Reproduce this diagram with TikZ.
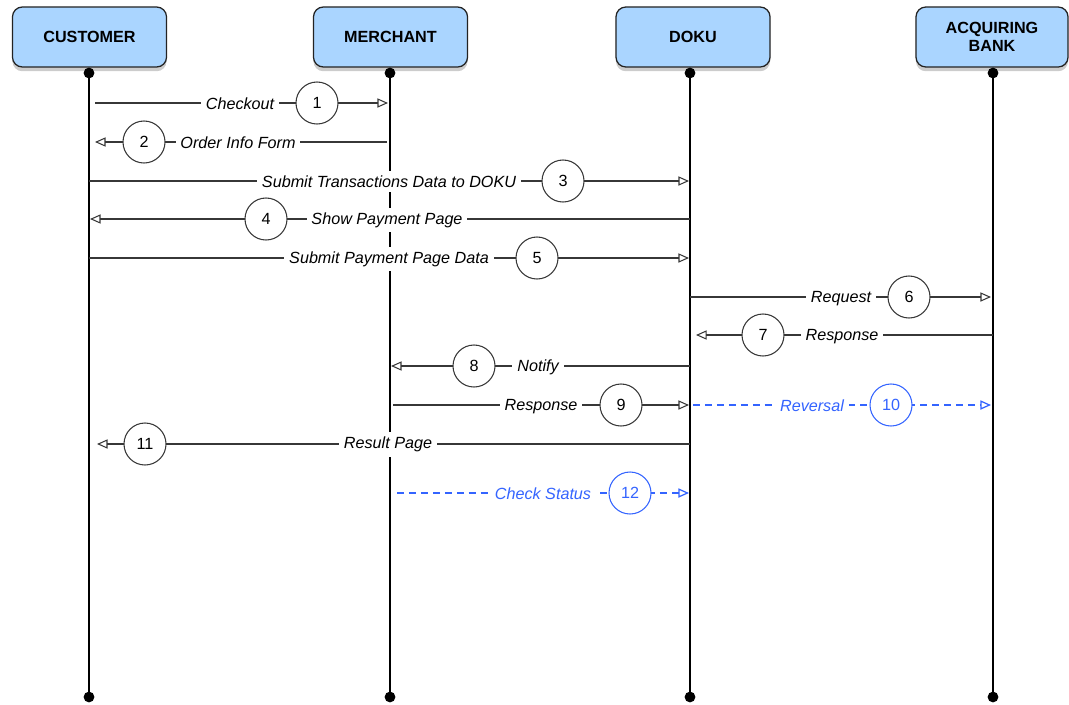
\documentclass[tikz,border=0pt]{standalone}
\usepackage{fontspec}
\setmainfont{Liberation Sans}
\usepackage{xcolor}
\usepackage{tikz}
\usetikzlibrary{arrows.meta,shadows}
\definecolor{figline}{RGB}{35,35,35}
\definecolor{figmsg}{RGB}{55,55,55}
\definecolor{figactor}{RGB}{170,213,255}
\definecolor{figblue}{RGB}{52,100,255}
\tikzset{
  actor/.style ={draw=figline, line width=0.9pt, fill=figactor, rounded corners=7pt,
                 minimum width=3.85cm, minimum height=1.5cm, align=center,
                 font=\bfseries\fontsize{11.5}{12.5}\selectfont,
                 drop shadow={shadow xshift=0pt, shadow yshift=-3pt, opacity=0.4}},
  life/.style  ={draw=black, line width=1.9pt},
  dotend/.style={circle, fill=black, inner sep=0pt, minimum size=0.27cm},
  msg/.style   ={draw=figmsg, line width=0.75pt, -{Triangle[open,length=7.5pt,width=6.5pt]}},
  msgb/.style  ={msg, draw=figblue, line width=0.9pt, dash pattern=on 5pt off 3.5pt},
  lbl/.style   ={fill=white, inner sep=3.5pt, font=\itshape\fontsize{11.5}{12}\selectfont},
  lblb/.style  ={lbl, text=figblue},
  num/.style   ={circle, draw=figmsg, fill=white, line width=0.75pt, minimum size=1.05cm,
                 inner sep=0pt, font=\fontsize{11.5}{12}\selectfont},
  numb/.style  ={num, draw=figblue, text=figblue},
}

\begin{document}
\begin{tikzpicture}[x=0.025cm,y=-0.025cm]
  \useasboundingbox (0,0) rectangle (1069,704);
  % actors
  \node[actor] (cust) at (89.5,37) {CUSTOMER};
  \node[actor] (merc) at (390.5,37) {MERCHANT};
  \node[actor] (doku) at (693,37) {DOKU};
  \node[actor, minimum width=3.8cm] (bank) at (992,37) {ACQUIRING\\BANK};
  % lifelines
  \node[dotend] (cust-top) at (89,73) {};
  \node[dotend] (cust-bot) at (89,697) {};
  \node[dotend] (merc-top) at (390,73) {};
  \node[dotend] (merc-bot) at (390,697) {};
  \node[dotend] (doku-top) at (690,73) {};
  \node[dotend] (doku-bot) at (690,697) {};
  \node[dotend] (bank-top) at (993,73) {};
  \node[dotend] (bank-bot) at (993,697) {};
  \draw[life] (cust-top.center) -- (cust-bot.center);
  \draw[life] (merc-top.center) -- (merc-bot.center);
  \draw[life] (doku-top.center) -- (doku-bot.center);
  \draw[life] (bank-top.center) -- (bank-bot.center);
  % 1
  \coordinate (s1) at (95,103);
  \coordinate (e1) at (388,103);
  \draw[msg] (s1) -- (e1);
  \node[lbl] (l1) at (240,103.5) {Checkout};
  \node[num] (n1) at (317,103) {1};
  % 2
  \coordinate (s2) at (387,142);
  \coordinate (e2) at (95,142);
  \draw[msg] (s2) -- (e2);
  \node[lbl] (l2) at (238,142.5) {Order Info Form};
  \node[num] (n2) at (144,142) {2};
  % 3
  \coordinate (s3) at (89,181);
  \coordinate (e3) at (689,181);
  \draw[msg] (s3) -- (e3);
  \node[lbl] (l3) at (389,181.5) {Submit Transactions Data to DOKU};
  \node[num] (n3) at (563,181) {3};
  % 4
  \coordinate (s4) at (690,219);
  \coordinate (e4) at (90,219);
  \draw[msg] (s4) -- (e4);
  \node[lbl] (l4) at (387,220) {Show Payment Page};
  \node[num] (n4) at (266,219) {4};
  % 5
  \coordinate (s5) at (89,258);
  \coordinate (e5) at (689,258);
  \draw[msg] (s5) -- (e5);
  \node[lbl] (l5) at (389,259) {Submit Payment Page Data};
  \node[num] (n5) at (537,258) {5};
  % 6
  \coordinate (s6) at (690,297);
  \coordinate (e6) at (991,297);
  \draw[msg] (s6) -- (e6);
  \node[lbl] (l6) at (841,298.5) {Request};
  \node[num] (n6) at (909,297) {6};
  % 7
  \coordinate (s7) at (993,335);
  \coordinate (e7) at (696,335);
  \draw[msg] (s7) -- (e7);
  \node[lbl] (l7) at (842,336.5) {Response};
  \node[num] (n7) at (763,335) {7};
  % 8
  \coordinate (s8) at (690,366);
  \coordinate (e8) at (391,366);
  \draw[msg] (s8) -- (e8);
  \node[lbl] (l8) at (538,367.5) {Notify};
  \node[num] (n8) at (474,366) {8};
  % 9
  \coordinate (s9) at (393,405);
  \coordinate (e9) at (689,405);
  \draw[msg] (s9) -- (e9);
  \node[lbl] (l9) at (541,406.5) {Response};
  \node[num] (n9) at (621,405) {9};
  % 10
  \coordinate (s10) at (693,405);
  \coordinate (e10) at (991,405);
  \draw[msgb] (s10) -- (e10);
  \node[lblb] (l10) at (812,405.5) {Reversal};
  \node[numb] (n10) at (891,405) {10};
  % 11
  \coordinate (s11) at (690,444);
  \coordinate (e11) at (97,444);
  \draw[msg] (s11) -- (e11);
  \node[lbl] (l11) at (388,444.5) {Result Page};
  \node[num] (n11) at (145,444) {11};
  % 12
  \coordinate (s12) at (397,493);
  \coordinate (e12) at (689,493);
  \draw[msgb] (s12) -- (e12);
  \node[lblb] (l12) at (543,493.5) {Check Status};
  \node[numb] (n12) at (630,493) {12};
\end{tikzpicture}
\end{document}
